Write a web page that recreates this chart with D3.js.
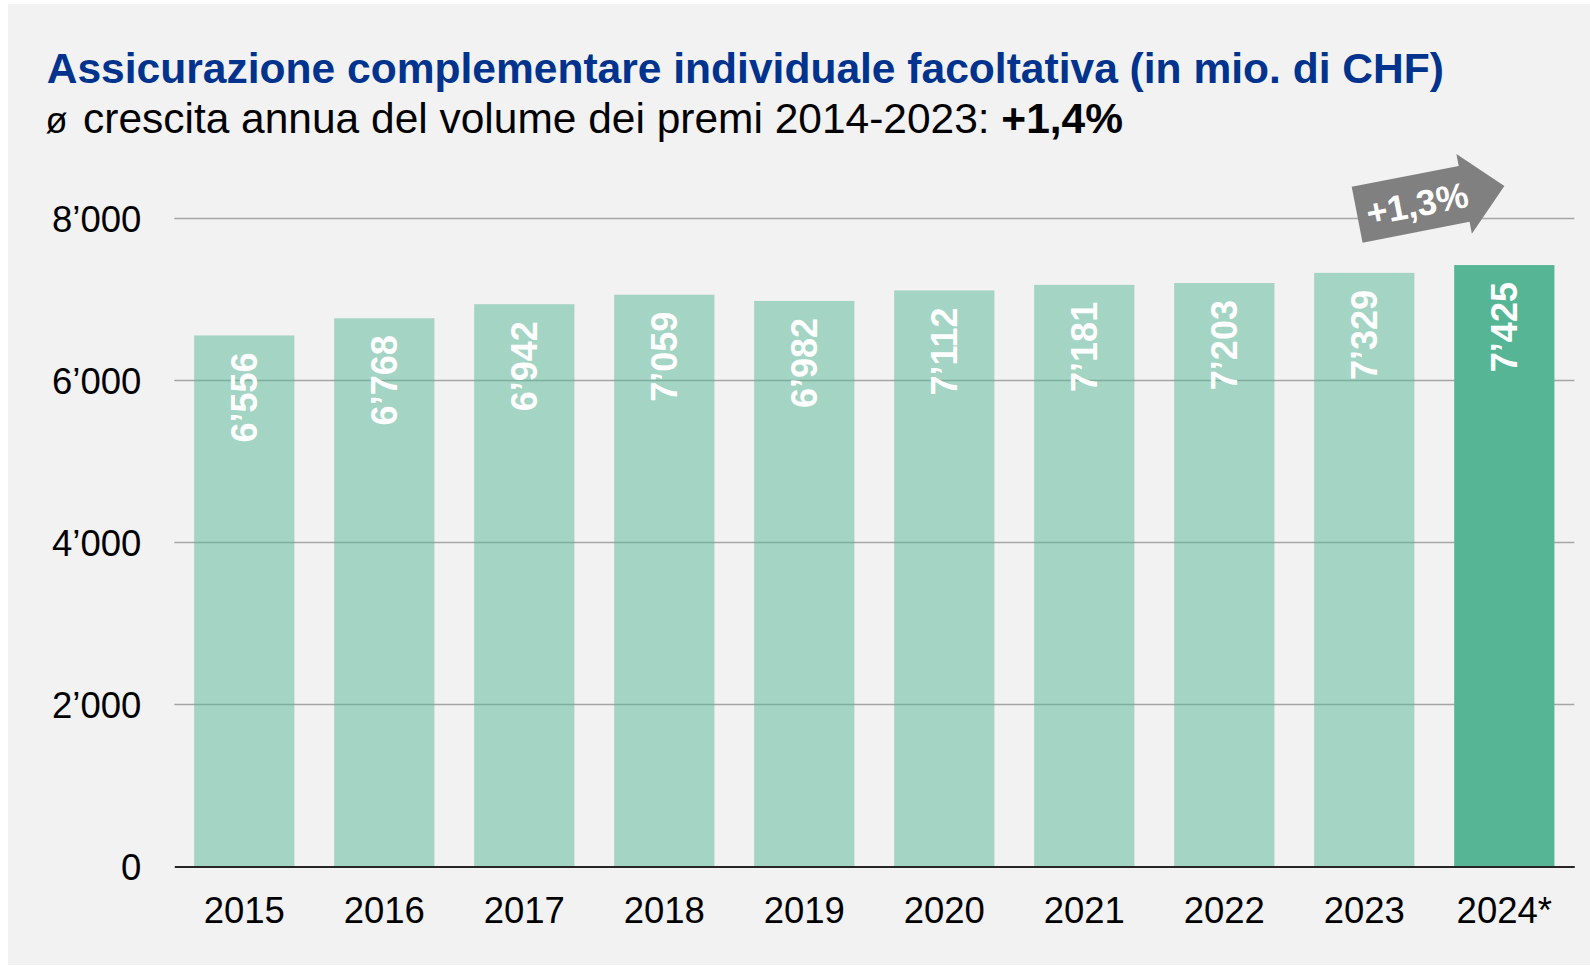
<!DOCTYPE html>
<html>
<head>
<meta charset="utf-8">
<script src="https://cdn.jsdelivr.net/npm/d3@7"></script>
<style>
  html, body { margin: 0; padding: 0; background: #ffffff; }
  svg { display: block; }
  text { font-family: "Liberation Sans", Arial, sans-serif; }
</style>
</head>
<body>
<svg id="chart" width="1590" height="966"></svg>
<script>
// ---- data ----
const years = ["2015", "2016", "2017", "2018", "2019", "2020", "2021", "2022", "2023", "2024*"];
const premiums = [6556, 6768, 6942, 7059, 6982, 7112, 7181, 7203, 7329, 7425];
const yTickValues = [0, 2000, 4000, 6000, 8000];
const highlightYear = "2024*";
const titleText = "Assicurazione complementare individuale facoltativa (in mio. di CHF)";
const subtitleText = "crescita annua del volume dei premi 2014-2023: ";
const subtitleBold = "+1,4%";
const arrowLabel = "+1,3%";

// ---- setup ----
const svg = d3.select("#chart");
const W = 1590, H = 966;
const green = "#55b594";
const fmt = d3.formatLocale({ decimal: ",", thousands: "\u2019", grouping: [3], currency: ["", ""] }).format(",d");

svg.append("rect").attr("x", 8).attr("y", 4).attr("width", W - 8).attr("height", H - 5).attr("fill", "#f2f2f2");

const x = d3.scaleBand().domain(years).range([174.3, 1574.3]).paddingInner(0.284).paddingOuter(0.142);
const y = d3.scaleLinear().domain([0, 8000]).range([866.5, 218.5]);

// gridlines
svg.append("g").selectAll("line").data(yTickValues.filter(d => d > 0)).join("line")
  .attr("x1", 174.3).attr("x2", 1574.3)
  .attr("y1", d => y(d)).attr("y2", d => y(d))
  .attr("stroke", "#a6a6a6").attr("stroke-width", 1.4);

// y axis labels
const yAxis = svg.append("g").attr("transform", "translate(174.3,0)")
  .call(d3.axisLeft(y).tickValues(yTickValues).tickSize(0).tickPadding(33).tickFormat(fmt));
yAxis.select(".domain").remove();
yAxis.selectAll("text").attr("font-size", 36.5).attr("fill", "#000").attr("font-family", "Liberation Sans, Arial, sans-serif").attr("dy", "0.36em");

// bars
const data = years.map((yr, i) => ({ year: yr, value: premiums[i] }));
svg.append("g").selectAll("rect").data(data).join("rect")
  .attr("x", d => x(d.year)).attr("width", x.bandwidth())
  .attr("y", d => y(d.value)).attr("height", d => y(0) - y(d.value))
  .attr("fill", green)
  .attr("fill-opacity", d => d.year === highlightYear ? 1 : 0.5);

// value labels (rotated)
svg.append("g").selectAll("text").data(data).join("text")
  .attr("transform", d => `translate(${x(d.year) + x.bandwidth() / 2},${y(d.value) + 17}) rotate(-90)`)
  .attr("text-anchor", "end").attr("dy", "0.36em")
  .attr("font-size", 36).attr("font-weight", "bold").attr("fill", "#fff")
  .text(d => fmt(d.value));

// x axis
const xAxis = svg.append("g").attr("transform", `translate(0,${y(0)})`)
  .call(d3.axisBottom(x).tickSize(0).tickPadding(31));
xAxis.select(".domain").attr("stroke", "#262626").attr("stroke-width", 2.2);
xAxis.selectAll("text").attr("font-size", 36.5).attr("fill", "#000").attr("font-family", "Liberation Sans, Arial, sans-serif");

// title
const title = svg.append("text").attr("x", 46.7).attr("y", 83.3)
  .attr("font-size", 40).attr("font-weight", "bold").attr("fill", "#00338d").text(titleText);
const tl = title.node().getComputedTextLength();
title.attr("font-size", 40 * 1398 / tl);

// subtitle
svg.append("text").attr("x", 45.5).attr("y", 133).attr("font-size", 36).attr("fill", "#000").text("\u00f8");
const sub = svg.append("text").attr("x", 83).attr("y", 133).attr("font-size", 38).attr("fill", "#000");
sub.append("tspan").text(subtitleText);
sub.append("tspan").attr("font-weight", "bold").text(subtitleBold);
const sl = sub.node().getComputedTextLength();
sub.attr("font-size", 38 * 1040 / sl);

// growth arrow
const arrow = svg.append("g").attr("transform", "translate(1351.7,186.7) rotate(-11)");
const arrowPts = [[0, 0], [109, 0], [109, -12], [150, 28.5], [109, 69], [109, 57], [0, 57]];
arrow.append("path").attr("d", d3.line()(arrowPts) + "Z").attr("fill", "#808080");
arrow.append("text").attr("x", 61).attr("y", 42).attr("text-anchor", "middle")
  .attr("font-size", 36).attr("font-weight", "bold").attr("fill", "#fff").text(arrowLabel);
</script>
</body>
</html>
